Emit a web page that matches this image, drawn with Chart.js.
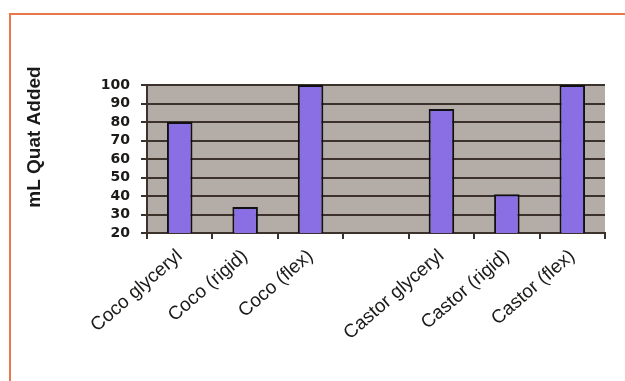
<!DOCTYPE html>
<html>
<head>
<meta charset="utf-8">
<title>mL Quat Added</title>
<script src="https://cdn.jsdelivr.net/npm/chart.js@4"></script>
<style>
  html, body { margin: 0; padding: 0; background: #fff; }
  #wrap { position: relative; width: 625px; height: 381px; overflow: hidden; }
  /* orange frame around the figure */
  #frame {
    position: absolute; left: 9px; top: 13px; width: 640px; height: 400px;
    border-left: 2px solid #e8784c; border-top: 2px solid #e8784c;
  }
  #chart { position: absolute; left: 0; top: 0; }
</style>
</head>
<body>
<div id="wrap">
  <div id="frame"></div>
  <canvas id="chart" width="625" height="381"></canvas>
</div>
<script>
// Kategorier (tom plats mellan Coco- och Castor-gruppen)
const categories = ['Coco glyceryl', 'Coco (rigid)', 'Coco (flex)', '', 'Castor glyceryl', 'Castor (rigid)', 'Castor (flex)'];
// mL tillsatt kvat per prov
const quatAdded = [80, 34, 100, null, 87, 41, 100];
const yTicks = [20, 30, 40, 50, 60, 70, 80, 90, 100];
const yAxisTitle = 'mL Quat Added';

const INK = '#1c1a18';
const GRID = '#3d312b';

// Grå bakgrund i plotytan
const plotBackground = {
  id: 'plotBackground',
  beforeDraw(chart) {
    const { ctx, chartArea: a } = chart;
    ctx.save();
    ctx.fillStyle = '#b4ada7';
    ctx.fillRect(a.left, a.top, a.right - a.left, a.bottom - a.top);
    ctx.restore();
  }
};

// Axeltitel, lite ovanför mitten som i originalet
const yTitle = {
  id: 'yTitle',
  afterDraw(chart) {
    const ctx = chart.ctx;
    ctx.save();
    ctx.translate(35, 137);
    ctx.rotate(-Math.PI / 2);
    ctx.font = 'bold 19px "Liberation Sans", Arial, sans-serif';
    ctx.fillStyle = INK;
    ctx.textAlign = 'center';
    ctx.textBaseline = 'middle';
    ctx.fillText(yAxisTitle, 0, 0);
    ctx.restore();
  }
};

new Chart(document.getElementById('chart'), {
  type: 'bar',
  data: {
    labels: categories,
    datasets: [{
      data: quatAdded,
      backgroundColor: '#8a6fe4',
      borderColor: '#111',
      borderWidth: 2,
      categoryPercentage: 1,
      barPercentage: 0.39,
    }],
  },
  options: {
    responsive: false,
    animation: false,
    layout: { padding: { top: 85, right: 20, left: 0, bottom: 0 } },
    plugins: { legend: { display: false }, tooltip: { enabled: false } },
    scales: {
      x: {
        grid: { drawOnChartArea: false, drawTicks: true, tickLength: 6, color: GRID, lineWidth: 2, offset: true },
        border: { color: GRID, width: 2 },
        ticks: {
          color: INK,
          font: { family: '"Liberation Sans", Arial, sans-serif', size: 19 },
          minRotation: 41,
          maxRotation: 41,
          padding: 6,
          autoSkip: false,
        },
        afterFit(scale) { scale.height = 148; },
      },
      y: {
        min: 20,
        max: 100,
        afterBuildTicks(scale) { scale.ticks = yTicks.map(v => ({ value: v })); },
        grid: { color: GRID, lineWidth: 2, tickLength: 6 },
        border: { color: GRID, width: 2 },
        ticks: {
          color: INK,
          font: { family: '"DejaVu Sans", sans-serif', size: 14, weight: 'bold', lineHeight: 1 },
          padding: 11,
          autoSkip: false,
        },
        afterFit(scale) { scale.width = 147; },
      },
    },
  },
  plugins: [plotBackground, yTitle],
});
</script>
</body>
</html>
